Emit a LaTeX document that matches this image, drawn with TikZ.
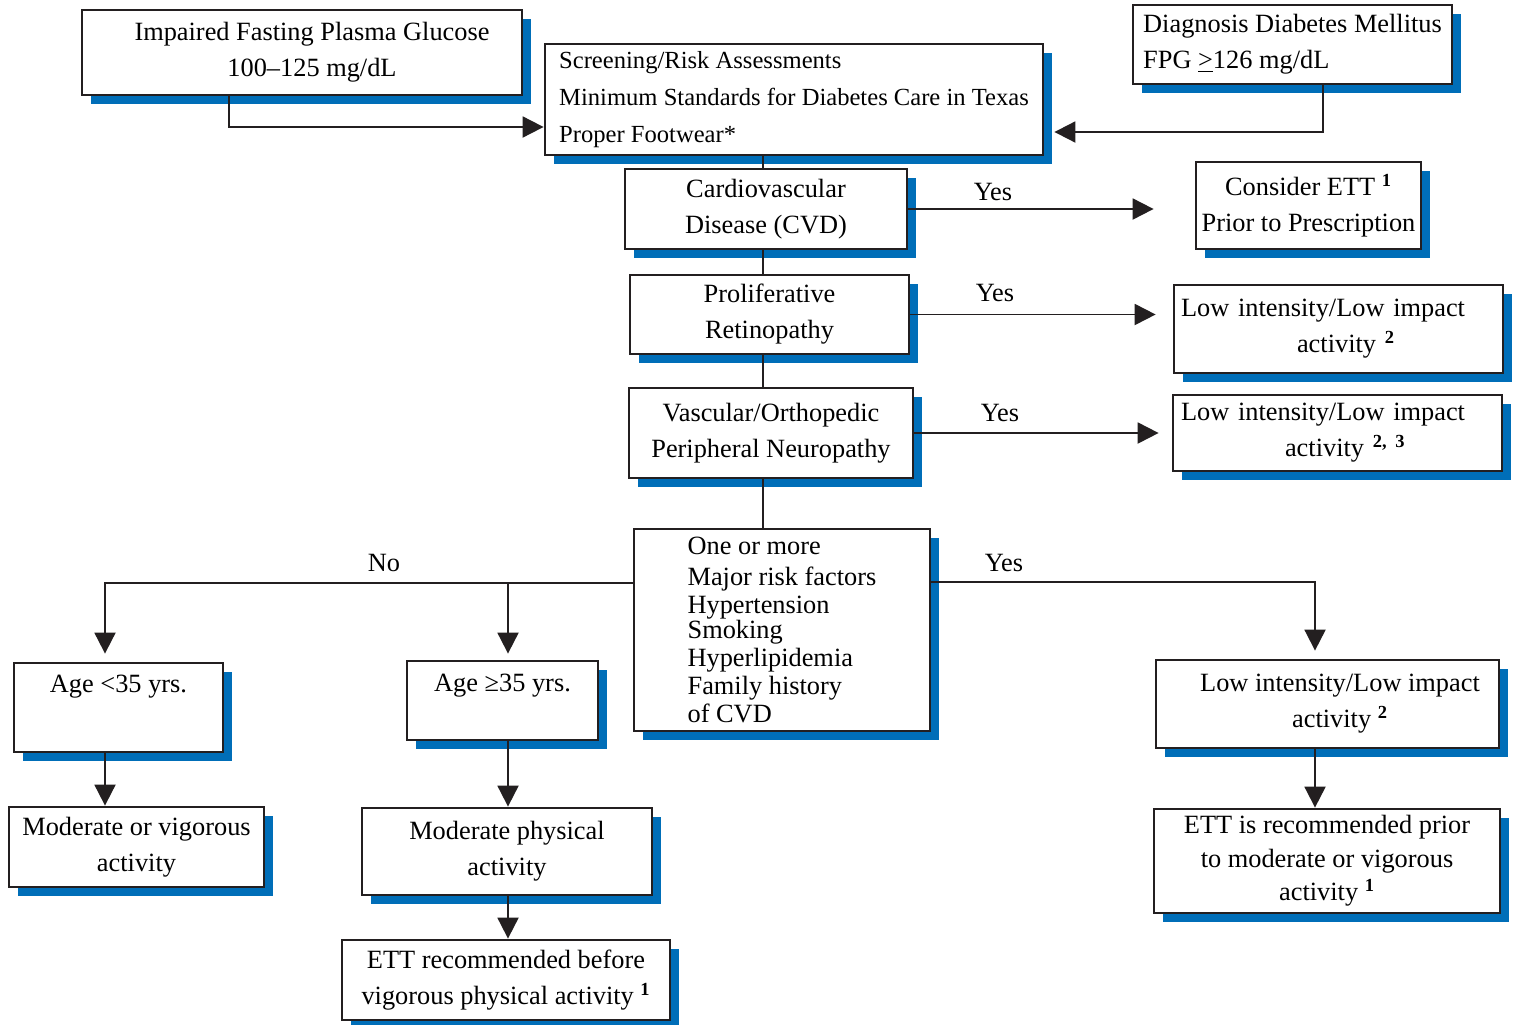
\documentclass[tikz,border=0pt]{standalone}
\usepackage{fontspec}
\setmainfont{Liberation Serif}
\usetikzlibrary{arrows.meta,shadows}

\definecolor{shadowblue}{RGB}{0,110,184}
\definecolor{ink}{RGB}{35,31,32}

\begin{document}
\begin{tikzpicture}[x=0.02cm,y=-0.02cm,
  box/.style={draw=ink, line width=1.6pt, fill=white, inner sep=0pt, align=center,
    drop shadow={shadow xshift=0.18cm, shadow yshift=-0.18cm, fill=shadowblue, opacity=1},
    font=\fontsize{15}{20.5}\selectfont},
  boxsize/.style 2 args={minimum width=#1*0.02cm, minimum height=#2*0.02cm},
  link/.style={draw=ink, line width=1.1pt},
  arr/.style={link, -{Triangle[length=0.42cm,width=0.42cm]}},
  lbl/.style={font=\fontsize{15}{18}\selectfont, inner sep=0pt}]
  \useasboundingbox (0,0) rectangle (1523,1024);

  % Entry points and screening
  \node[box, boxsize={440}{85}] (ifpg) at (302,52.5) {\hspace*{0.4cm}Impaired Fasting Plasma Glucose\\\hspace*{0.4cm}100--125 mg/dL};
  \node[box, boxsize={498}{111}, align=left, font=\fontsize{14}{21}\selectfont] (screen) at (794,99.5)
    {Screening/Risk Assessments\\Minimum Standards for Diabetes Care in Texas\\Proper Footwear*};
  \node[box, boxsize={319}{79}, align=left] (diag) at (1292.5,44.5) {Diagnosis Diabetes Mellitus\\FPG \underline{>}126 mg/dL};

  % Main column of questions
  \node[box, boxsize={282}{80}] (cvd) at (766,209) {Cardiovascular\\Disease (CVD)};
  \node[box, boxsize={279}{79}] (prolif) at (769.5,314.5) {Proliferative\\Retinopathy};
  \node[box, boxsize={284}{90}] (vasc) at (771,433) {Vascular/Orthopedic\\Peripheral Neuropathy};
  \node[box, boxsize={296}{202}, align=left, font=\fontsize{15}{16}\selectfont] (risk) at (782,630)
    {One or more\\[2pt]Major risk factors\\Hypertension\\[-2pt]Smoking\\Hyperlipidemia\\Family history\\of CVD};

  % Outcomes on the right
  \node[box, boxsize={225}{87}] (ett1) at (1308.5,205.5) {Consider ETT \textsuperscript{\textbf{1}}\\Prior to Prescription};
  \node[box, minimum height=88*0.02cm, text width=6.3cm, inner xsep=0.14cm, align=left] (low2a) at (1338.5,329)
    {Low intensity/Low impact\\\hspace*{2.32cm}activity \textsuperscript{\textbf{2}}};
  \node[box, minimum height=76*0.02cm, text width=6.26cm, inner xsep=0.16cm, align=left] (low23) at (1337.5,433)
    {Low intensity/Low impact\\\hspace*{2.08cm}activity \textsuperscript{\textbf{2, 3}}};
  \node[box, boxsize={343}{88}] (low2b) at (1327.5,704) {\hspace*{0.5cm}Low intensity/Low impact\\\hspace*{0.5cm}activity \textsuperscript{\textbf{2}}};
  \node[box, boxsize={346}{104}, font=\fontsize{15}{19}\selectfont] (ettprior) at (1327,861)
    {ETT is recommended prior\\to moderate or vigorous\\activity \textsuperscript{\textbf{1}}};

  % Outcomes on the left
  \node[box, boxsize={209}{89}] (age1) at (118.5,707.5) {Age <35 yrs.\\[7pt]\mbox{}};
  \node[box, boxsize={191}{79}] (age2) at (502.5,700.5) {Age ≥35 yrs.\\\mbox{}};
  \node[box, boxsize={255}{80}] (modvig) at (136.5,847) {Moderate or vigorous\\activity};
  \node[box, boxsize={290}{87}] (modphys) at (507,851.5) {Moderate physical\\activity};
  \node[box, boxsize={328}{80}] (ettvig) at (506,980) {ETT recommended before\\vigorous physical activity \textsuperscript{\textbf{1}}};

  % Branch labels
  \node[lbl] (yes1) at (993,192) {Yes};
  \node[lbl] (yes2) at (995,293) {Yes};
  \node[lbl] (yes3) at (1000,413) {Yes};
  \node[lbl] (yes4) at (1004,563) {Yes};
  \node[lbl] (no1) at (384,563) {No};

  % Bends and columns of the connectors
  \coordinate (ifpgbend) at (229,127);
  \coordinate (diagbend) at (1323,132);
  \coordinate (trunk) at (763,0);
  \coordinate (nobar) at (105,583);
  \coordinate (col2) at (508,0);
  \coordinate (yesbar) at (1315,582);

  \draw[arr] (ifpg.south -| ifpgbend) |- (screen.west |- ifpgbend);
  \draw[arr, shorten >=0.2cm] (diag.south -| diagbend) |- (screen.east |- diagbend);

  \draw[link] (screen.south -| trunk) -- (cvd.north -| trunk);
  \draw[link] (cvd.south -| trunk) -- (prolif.north -| trunk);
  \draw[link] (prolif.south -| trunk) -- (vasc.north -| trunk);
  \draw[link] (vasc.south -| trunk) -- (risk.north -| trunk);

  \draw[arr, shorten >=0.82cm] (cvd.east) -- (cvd.east -| ett1.west);
  \draw[arr, shorten >=0.34cm] (prolif.east) -- (prolif.east -| low2a.west);
  \draw[arr, shorten >=0.26cm] (vasc.east) -- (vasc.east -| low23.west);

  \draw[arr, shorten >=0.16cm] (risk.west |- nobar) -| (age1.north -| nobar);
  \draw[arr, shorten >=0.12cm] (nobar -| col2) -- (age2.north -| col2);
  \draw[arr, shorten >=0.16cm] (risk.east |- yesbar) -| (low2b.north -| yesbar);

  \draw[arr] (age1.south -| nobar) -- (modvig.north -| nobar);
  \draw[arr] (age2.south -| col2) -- (modphys.north -| col2);
  \draw[arr] (modphys.south -| col2) -- (ettvig.north -| col2);
  \draw[arr] (low2b.south -| yesbar) -- (ettprior.north -| yesbar);
\end{tikzpicture}
\end{document}
